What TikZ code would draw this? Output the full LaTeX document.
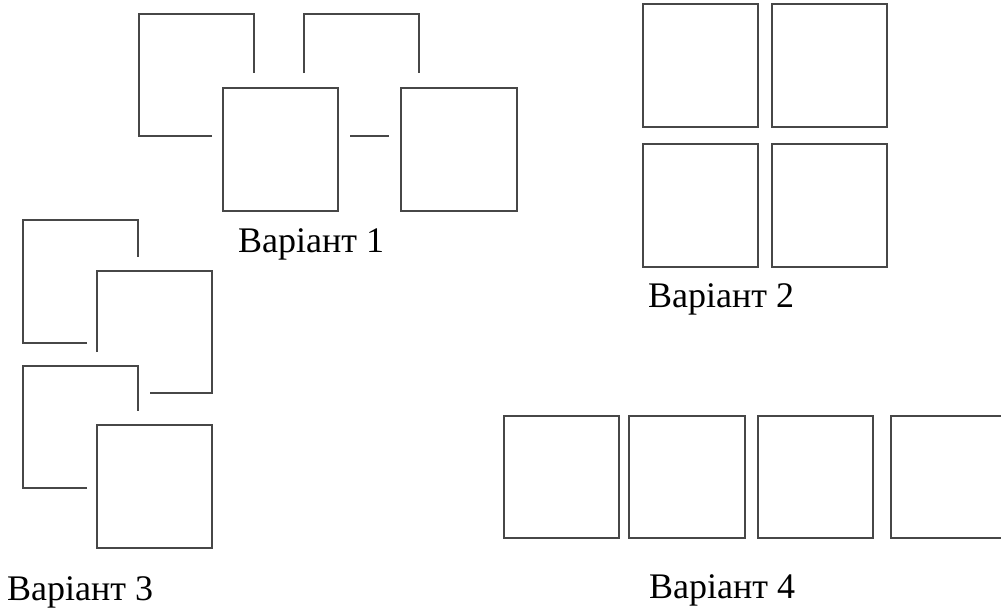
\documentclass[tikz,border=0pt]{standalone}
\usepackage{fontspec}
\setmainfont{Liberation Serif}
\tikzset{
  ln/.style={draw=black!72, line width=1.4pt},
  lbl/.style={anchor=base west, inner sep=0pt, font=\fontsize{36}{40}\selectfont}
}
\begin{document}
\begin{tikzpicture}[x=1pt,y=-1pt]
\clip (0,0) rectangle (1001,608);
% Variant 1
\draw[ln] (212,136) -- (139,136) -- (139,14) -- (254,14) -- (254,73);
\draw[ln] (223,88) rectangle (338,211);
\draw[ln] (304,73) -- (304,14) -- (419,14) -- (419,73);
\draw[ln] (350,136) -- (389,136);
\draw[ln] (401,88) rectangle (517,211);
\node[lbl] (t1) at (238,252) {Варіант 1};
% Variant 2
\draw[ln] (643,4) rectangle (758,127);
\draw[ln] (772,4) rectangle (887,127);
\draw[ln] (643,144) rectangle (758,267);
\draw[ln] (772,144) rectangle (887,267);
\node[lbl] (t2) at (648,307) {Варіант 2};
% Variant 3
\draw[ln] (87,343) -- (23,343) -- (23,220) -- (138,220) -- (138,257);
\draw[ln] (97,352) -- (97,271) -- (212,271) -- (212,393) -- (150,393);
\draw[ln] (87,488) -- (23,488) -- (23,366) -- (138,366) -- (138,411);
\draw[ln] (97,425) rectangle (212,548);
\node[lbl] (t3) at (7,600) {Варіант 3};
% Variant 4
\draw[ln] (504,416) rectangle (619,538);
\draw[ln] (629,416) rectangle (745,538);
\draw[ln] (758,416) rectangle (873,538);
\draw[ln] (891,416) rectangle (1006,538);
\node[lbl] (t4) at (649,598) {Варіант 4};
\end{tikzpicture}
\end{document}
